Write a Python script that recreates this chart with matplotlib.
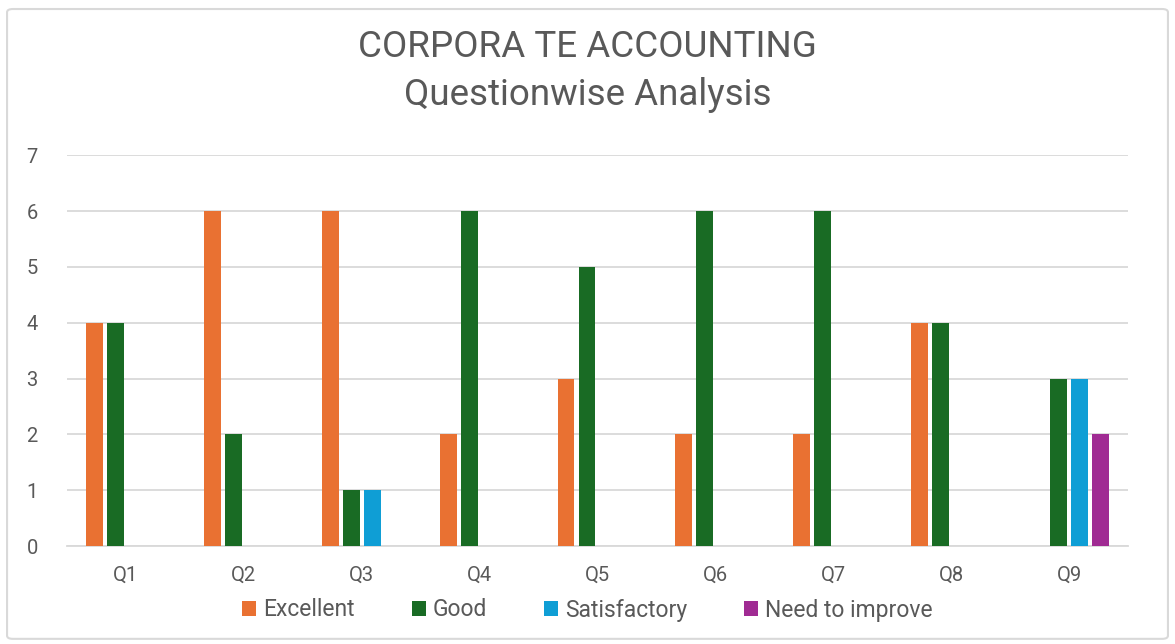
import numpy as np
import matplotlib.pyplot as plt
from matplotlib.patches import FancyBboxPatch

plt.rcParams['font.family'] = ['Roboto', 'DejaVu Sans']

# chart data
questions = ['Q1', 'Q2', 'Q3', 'Q4', 'Q5', 'Q6', 'Q7', 'Q8', 'Q9']
excellent = [4, 6, 6, 2, 3, 2, 2, 4, 0]
good = [4, 2, 1, 6, 5, 6, 6, 4, 3]
satisfactory = [0, 0, 1, 0, 0, 0, 0, 0, 3]
need_improve = [0, 0, 0, 0, 0, 0, 0, 0, 2]

series = [('Excellent', excellent, '#E97132'),
          ('Good', good, '#196B24'),
          ('Satisfactory', satisfactory, '#0F9ED5'),
          ('Need to improve', need_improve, '#A02B93')]

text_col = '#595959'
grid_col = '#D9D9D9'

fig = plt.figure(figsize=(11.75, 6.44), dpi=100)
ax = fig.add_axes([0.057, 0.152, 0.903, 0.607])

x = np.arange(len(questions))
step = 0.178
width = 0.144
for i, (name, vals, col) in enumerate(series):
    vals = np.array(vals, dtype=float)
    # zero values are not drawn, but keep legend entry
    h = np.where(vals > 0, vals, np.nan)
    ax.bar(x + (i - 1.5) * step, h, width, color=col, label=name, zorder=3)

ax.set_xlim(-0.5, len(questions) - 0.5)
ax.set_ylim(0, 7)
ax.set_yticks(range(0, 8))
ax.set_xticks(x)
ax.set_xticklabels(questions)
ax.yaxis.grid(True, color=grid_col, linewidth=1.3, zorder=0)
ax.set_axisbelow(True)
for s in ax.spines.values():
    s.set_visible(False)
ax.spines['bottom'].set_visible(True)
ax.spines['bottom'].set_color(grid_col)
ax.spines['bottom'].set_linewidth(1.3)
ax.tick_params(axis='both', length=0, labelsize=14.5, colors=text_col)
ax.tick_params(axis='y', pad=21)
ax.tick_params(axis='x', pad=14)

fig.text(0.5, 1 - 47 / 644, 'CORPORA TE ACCOUNTING', ha='center', va='center',
         fontsize=26.5, color=text_col)
fig.text(0.5, 1 - 95 / 644, 'Questionwise Analysis', ha='center', va='center',
         fontsize=26.5, color=text_col)

handles, labels = ax.get_legend_handles_labels()
fig.legend(handles, labels, loc='center', bbox_to_anchor=(0.5, 1 - 610 / 644),
           ncol=4, frameon=False, fontsize=16.5, labelcolor=text_col,
           handlelength=0.6, handleheight=0.6, handletextpad=0.3, columnspacing=2.5)

# outer chart border
border = FancyBboxPatch((0.006, 0.008), 0.988, 0.978, boxstyle='round,pad=0,rounding_size=0.005',
                        transform=fig.transFigure, fill=False, edgecolor=grid_col, linewidth=1.5)
fig.patches.append(border)

fig.savefig('out.png', dpi=100)
